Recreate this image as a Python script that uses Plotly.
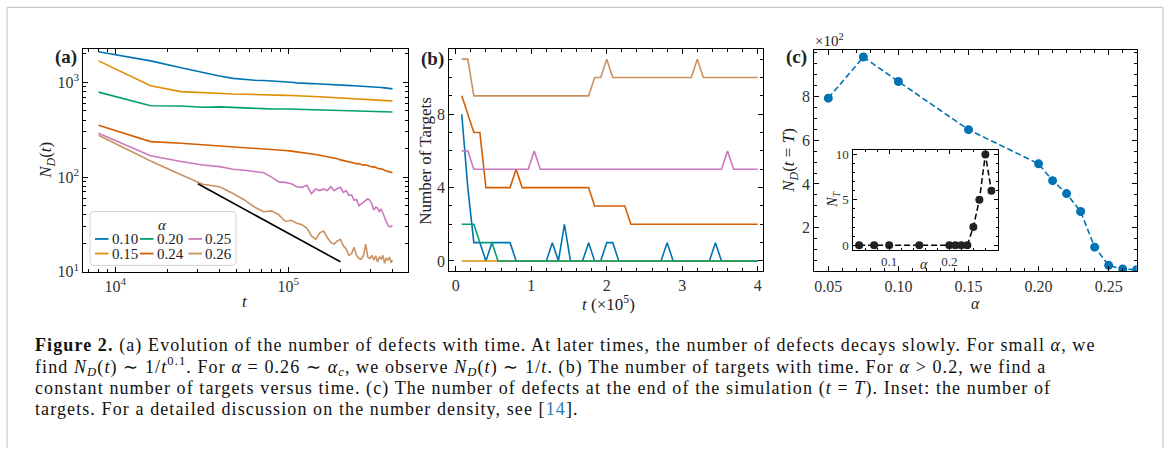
import numpy as np
import plotly.graph_objects as go

W, H = 1167, 457
FONT = "Liberation Serif, Times New Roman, serif"

# ---------------- data ----------------
# panel (a): time grid and N_D(t) for each alpha
t_steps = np.arange(8000, 400001, 8000)
alphas_a = ["0.10", "0.15", "0.20", "0.24", "0.25", "0.26"]
nd_010 = [2110, 1690, 1430, 1265, 1170, 1105, 1075, 1055, 1048, 1040, 1030, 1018, 1005, 990, 978, 975, 972, 968, 965, 960,
          956, 950, 946, 942, 938, 935, 932, 928, 925, 922, 920, 916, 914, 912, 910, 906, 905, 902, 900, 898,
          893, 890, 885, 882, 878, 872, 866, 862, 858, 855]
nd_015 = [1690, 925, 800, 778, 762, 755, 752, 750, 746, 742, 736, 731, 728, 726, 723, 720, 716, 711, 706, 702,
          699, 696, 692, 689, 685, 682, 679, 676, 673, 670, 668, 667, 666, 665, 664, 663, 661, 660, 659, 658,
          656, 654, 652, 650, 648, 646, 644, 641, 639, 637]
nd_020 = [790, 568, 565, 548, 552, 542, 537, 533, 529, 525, 527, 529, 525, 522, 520, 521, 518, 515, 514, 513,
          514, 511, 510, 511, 509, 507, 508, 506, 504, 505, 506, 503, 502, 504, 502, 500, 501, 499, 500, 498,
          497, 498, 495, 496, 494, 493, 491, 492, 489, 488]
nd_024 = [354, 237, 228, 220, 213, 209, 206, 204, 200, 196, 194, 191, 188, 185, 182, 179, 176, 173, 170, 167,
          165, 161, 160, 156, 152, 150, 148, 146, 142, 141, 138, 139, 136, 134, 135, 132, 130, 128, 129, 126,
          124, 122, 123, 120, 118, 116, 115, 113, 112, 111]
nd_025 = [291, 168, 146, 134, 129, 121, 118, 115, 111, 100, 89, 88, 85, 79, 78, 82, 67, 75, 72, 75,
          72, 79, 72, 76, 78, 69, 72, 64, 65, 57, 58, 50, 52, 54, 56, 59, 57, 52, 45, 48,
          47, 43, 46, 41, 38, 34, 31, 30, 30, 31]
nd_026 = [277, 148, 106, 84, 79, 67, 57, 48, 43, 44, 40, 34, 35, 32.6, 31.4, 29, 23.9, 22, 25.8, 26.9,
          23, 20.4, 19.6, 21.2, 22, 18.8, 17.4, 14.9, 15.5, 18.1, 14.9, 13.8, 13.6, 14.9, 19.6, 14.3, 13.8, 14.9, 13.3, 14.7,
          12.7, 14.3, 13.6, 14.9, 12.3, 13.8, 13.3, 14.3, 12.5, 13.3]
guide_t = [3.0e4, 2.0e5]          # 1/t guide line
guide_n = [85.0, 12.75]

# panel (b): number of targets vs time (t in units of 1e5)
t_b = t_steps / 1e5
nt_010 = [8, 4, 1, 1, 0, 1, 1, 1, 1, 0, 0, 0, 0, 0, 0, 1, 0, 2, 0, 0, 0, 1, 0, 0, 1, 1, 0, 0, 0, 0,
          0, 0, 0, 0, 1, 0, 0, 0, 0, 0, 0, 0, 1, 0, 0, 0, 0, 0, 0, 0]
nt_015 = [0] * 50
nt_020 = [2, 2, 2, 1, 1, 1] + [0] * 44
nt_024 = [9, 8, 7, 7, 4, 4, 4, 4, 4, 5] + [4] * 12 + [3] * 6 + [2] * 22
nt_025 = [6, 6] + [5] * 10 + [6] + [5] * 31 + [6] + [5] * 5
nt_026 = [11, 11] + [9] * 20 + [10, 10, 11] + [10] * 14 + [11] + [10] * 10

# panel (c): N_D(t=T) vs alpha, inset N_T vs alpha
alpha_c = [0.05, 0.075, 0.10, 0.15, 0.20, 0.21, 0.22, 0.23, 0.24, 0.25, 0.26, 0.27]
nd_final = [792, 980, 868, 648, 492, 415, 356, 274, 111, 28, 11, 8]
nt_final = [0, 0, 0, 0, 0, 0, 0, 0, 2, 5, 10, 6]

colors = ["#0173b2", "#de8f05", "#029e73", "#d55e00", "#cc78bc", "#ca9161"]

# ---------------- helpers ----------------
def px(x):
    return x / W

def py(y):
    return 1 - y / H

fig = go.Figure()

series_a = [nd_010, nd_015, nd_020, nd_024, nd_025, nd_026]
for lab, s, c in zip(alphas_a, series_a, colors):
    fig.add_trace(go.Scatter(x=t_steps, y=s, mode="lines", line=dict(color=c, width=1.6),
                             name=lab, showlegend=False, xaxis="x", yaxis="y"))
fig.add_trace(go.Scatter(x=guide_t, y=guide_n, mode="lines", line=dict(color="black", width=1.6),
                         showlegend=False, xaxis="x", yaxis="y"))

series_b = [nt_010, nt_015, nt_020, nt_024, nt_025, nt_026]
for lab, s, c in zip(alphas_a, series_b, colors):
    fig.add_trace(go.Scatter(x=t_b, y=s, mode="lines", line=dict(color=c, width=1.6),
                             showlegend=False, xaxis="x2", yaxis="y2"))

fig.add_trace(go.Scatter(x=alpha_c, y=nd_final, mode="lines+markers",
                         line=dict(color="#0173b2", width=1.6, dash="6px,3px"),
                         marker=dict(color="#0173b2", size=9),
                         showlegend=False, xaxis="x3", yaxis="y3"))
fig.add_trace(go.Scatter(x=alpha_c, y=nt_final, mode="lines+markers",
                         line=dict(color="black", width=1.5, dash="6px,3px"),
                         marker=dict(color="#222222", size=8),
                         showlegend=False, xaxis="x4", yaxis="y4"))

TICKFONT = dict(family=FONT, size=16, color="#333333", weight="normal")
base_axis = dict(showline=True, linecolor="black", linewidth=1.2, mirror="allticks",
                 ticks="inside", ticklen=5, tickwidth=1, tickcolor="black",
                 showgrid=False, zeroline=False, tickfont=TICKFONT)

def minor(vals, ln=3):
    return dict(ticks="inside", ticklen=ln, tickwidth=0.8, tickcolor="black",
                tickmode="array", tickvals=vals, showgrid=False)

log_minor_x = [m * 10 ** e for e in (3, 4, 5) for m in range(2, 10)]
log_minor_y = [m * 10 ** e for e in (1, 2, 3) for m in range(2, 10)]

SMALLTICK = dict(family=FONT, size=13, color="#333333", weight="normal")

layout = dict(
    width=W, height=H, margin=dict(l=0, r=0, t=0, b=0),
    paper_bgcolor="white", plot_bgcolor="rgba(0,0,0,0)",
    font=dict(family=FONT, color="black"),
    xaxis=dict(base_axis, domain=[px(83.3), px(407.7)], type="log", range=[3.815, 5.690],
               tickvals=[1e4, 1e5], ticktext=["10<sup>4</sup>", "10<sup>5</sup>"],
               minor=minor(log_minor_x), anchor="y"),
    yaxis=dict(base_axis, domain=[py(276), py(47)], type="log", range=[1, 3.356],
               tickvals=[10, 100, 1000], ticktext=["10<sup>1</sup>", "10<sup>2</sup>", "10<sup>3</sup>"],
               minor=minor(log_minor_y), anchor="x"),
    xaxis2=dict(base_axis, domain=[px(449.3), px(762.7)], range=[-0.085, 4.066],
                tickvals=[0, 1, 2, 3, 4], minor=minor(list(np.round(np.arange(0, 4.01, 0.2), 2))), anchor="y2"),
    yaxis2=dict(base_axis, domain=[py(275.3), py(47.3)], range=[-0.55, 11.55],
                tickvals=[0, 4, 8], minor=minor(list(range(0, 12))), anchor="x2"),
    xaxis3=dict(base_axis, domain=[px(814.3), px(1136.7)], range=[0.04, 0.27],
                tickvals=[0.05, 0.10, 0.15, 0.20, 0.25], ticktext=["0.05", "0.10", "0.15", "0.20", "0.25"],
                minor=minor(list(np.round(np.arange(0.04, 0.271, 0.01), 3))), anchor="y3"),
    yaxis3=dict(base_axis, domain=[py(275.7), py(48.3)], range=[0, 1012],
                tickvals=[200, 400, 600, 800], ticktext=["2", "4", "6", "8"],
                minor=minor(list(range(0, 1001, 50))), anchor="x3"),
    xaxis4=dict(base_axis, domain=[px(852.5), px(998)], range=[0.039, 0.281],
                tickvals=[0.1, 0.2], ticktext=["0.1", "0.2"], ticklen=4, tickfont=SMALLTICK,
                minor=minor(list(np.round(np.arange(0.04, 0.281, 0.02), 3)), 2), anchor="y4"),
    yaxis4=dict(base_axis, domain=[py(253.3), py(151)], range=[-0.5, 10.5],
                tickvals=[0, 5, 10], ticklen=4, tickfont=SMALLTICK,
                minor=minor(list(range(0, 11)), 2), anchor="x4"),
)
fig.update_layout(**layout)

ann = []
def text(x, y, s, size=15, xanchor="center", yanchor="middle", angle=0, color="#222222"):
    ann.append(dict(x=px(x), y=py(y), xref="paper", yref="paper", text=s, showarrow=False,
                    xanchor=xanchor, yanchor=yanchor, textangle=angle,
                    font=dict(family=FONT, size=size, color=color)))

# panel labels
text(79, 55, "<b>(a)</b>", 19, xanchor="right")
text(446, 57, "<b>(b)</b>", 19, xanchor="right")
text(809, 55, "<b>(c)</b>", 19, xanchor="right")
# axis labels
text(245, 307, "<i>t</i>", 17)
text(47, 162, "<i>N</i><sub><i>D</i></sub>(<i>t</i>)", 17, angle=-90)
text(608, 308, "<i>t</i> (×10<sup>5</sup>)", 17)
text(426, 162, "Number of Targets", 17, angle=-90)
text(975, 309, "<i>α</i>", 16)
text(790, 162, "<i>N</i><sub><i>D</i></sub>(<i>t</i> = <i>T</i>)", 17, angle=-90)
text(813, 38, "×10<sup>2</sup>", 15, xanchor="left")
# inset labels
text(924, 269, "<i>α</i>", 14)
text(834, 202, "<i>N</i><sub><i>T</i></sub>", 14, angle=-90)

# legend of panel (a)
shapes = []
lx0, lx1, ly0, ly1, r = 90, 236, 214, 269.5, 4
path = (f"M {px(lx0 + r)},{py(ly0)} L {px(lx1 - r)},{py(ly0)} "
        f"Q {px(lx1)},{py(ly0)} {px(lx1)},{py(ly0 + r)} L {px(lx1)},{py(ly1 - r)} "
        f"Q {px(lx1)},{py(ly1)} {px(lx1 - r)},{py(ly1)} L {px(lx0 + r)},{py(ly1)} "
        f"Q {px(lx0)},{py(ly1)} {px(lx0)},{py(ly1 - r)} L {px(lx0)},{py(ly0 + r)} "
        f"Q {px(lx0)},{py(ly0)} {px(lx0 + r)},{py(ly0)} Z")
shapes.append(dict(type="path", path=path, xref="paper", yref="paper",
                   line=dict(color="#d4d4d4", width=1), fillcolor="rgba(255,255,255,0.85)", layer="above"))
text(162, 227.5, "<i>α</i>", 15)
leg_cols = [95, 140, 188.5]
leg_rows = [242.3, 257.3]
order = [(0, 0), (0, 1), (1, 0), (1, 1), (2, 0), (2, 1)]
for (ci, ri), lab, c in zip(order, alphas_a, colors):
    x0 = leg_cols[ci]
    y0 = leg_rows[ri]
    shapes.append(dict(type="line", xref="paper", yref="paper", x0=px(x0), x1=px(x0 + 13.5),
                       y0=py(y0), y1=py(y0), line=dict(color=c, width=1.8), layer="above"))
    text(x0 + 14.5, y0, lab, 15, xanchor="left")

# outer gray frame
frame = "#c9c9c9"
shapes.append(dict(type="line", xref="paper", yref="paper", x0=px(7), x1=px(1163), y0=py(4.5), y1=py(4.5),
                   line=dict(color=frame, width=1.2)))
shapes.append(dict(type="line", xref="paper", yref="paper", x0=px(7), x1=px(7), y0=py(4.5), y1=0,
                   line=dict(color=frame, width=1.2)))
shapes.append(dict(type="line", xref="paper", yref="paper", x0=px(1163), x1=px(1163), y0=py(4.5), y1=0,
                   line=dict(color=frame, width=1.2)))

# caption
cap = [
    "<b>Figure 2.</b> (a) Evolution of the number of defects with time. At later times, the number of defects decays slowly. For small <i>α</i>, we",
    "find <i>N</i><sub><i>D</i></sub>(<i>t</i>) ∼ 1/<i>t</i><sup>0.1</sup>. For <i>α</i> = 0.26 ∼ <i>α</i><sub><i>c</i></sub>, we observe <i>N</i><sub><i>D</i></sub>(<i>t</i>) ∼ 1/<i>t</i>. (b) The number of targets with time. For <i>α</i> &gt; 0.2, we find a",
    "constant number of targets versus time. (c) The number of defects at the end of the simulation (<i>t</i> = <i>T</i>). Inset: the number of",
    "targets. For a detailed discussion on the number density, see [<span style='color:#2b7bba'>14</span>].",
]
for i, line in enumerate(cap):
    text(33, 352 + i * 21.7, "<span style='letter-spacing:1.1px'>" + line + "</span>", 18, xanchor="left",
         color="#111111")

fig.update_layout(annotations=ann, shapes=shapes)
fig.write_html("out.html")
